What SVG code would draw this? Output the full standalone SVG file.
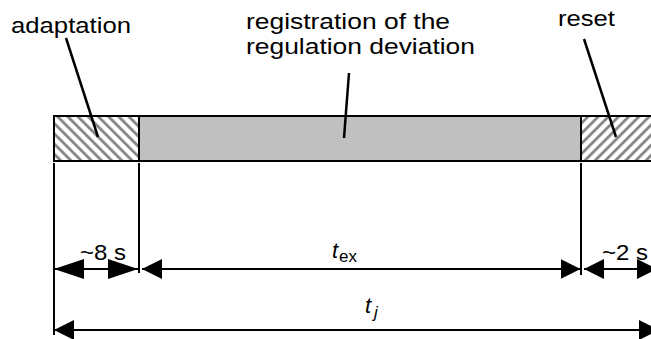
<svg xmlns="http://www.w3.org/2000/svg" width="651" height="339" viewBox="0 0 651 339">
<style>
.lbl{font-family:"Liberation Sans",Arial,sans-serif;font-size:22px;fill:#000}
.sym{font-family:"Liberation Sans",Arial,sans-serif;font-style:italic;fill:#000}
.ln{stroke:#000;stroke-width:2;fill:none}
.box{stroke:#000;stroke-width:2}
.lead{stroke:#000;stroke-width:2.5;fill:none}
.dim{stroke:#000;stroke-width:2;fill:none}
</style>
<defs>
<pattern id="hatchBack" width="7.2" height="7.2" patternUnits="userSpaceOnUse" patternTransform="rotate(-45)">
<rect width="7.2" height="7.2" fill="#fff"/>
<line x1="1.5" y1="0" x2="1.5" y2="7.2" stroke="#858585" stroke-width="2.8"/>
</pattern>
<pattern id="hatchFwd" width="7.2" height="7.2" patternUnits="userSpaceOnUse" patternTransform="rotate(45)">
<rect width="7.2" height="7.2" fill="#fff"/>
<line x1="1.5" y1="0" x2="1.5" y2="7.2" stroke="#858585" stroke-width="2.8"/>
</pattern>
<marker id="ah" viewBox="0 0 20 20" refX="20" refY="10" markerWidth="20" markerHeight="20" markerUnits="userSpaceOnUse" orient="auto-start-reverse">
<path d="M0,0 L20,10 L0,20 z" fill="#000"/>
</marker>
<marker id="ahLong" viewBox="0 0 30 20" refX="30" refY="10" markerWidth="30" markerHeight="20" markerUnits="userSpaceOnUse" orient="auto-start-reverse">
<path d="M0,0 L30,10 L0,20 z" fill="#000"/>
</marker>
</defs>
<rect width="651" height="339" fill="#fff"/>

<g id="adaptation">
<rect x="54" y="116" width="85" height="45" class="box" fill="url(#hatchBack)"/>
<text class="lbl" x="11" y="33" textLength="120" lengthAdjust="spacingAndGlyphs">adaptation</text>
</g>
<g id="registration">
<rect x="139" y="116" width="442" height="45" class="box" fill="#c0c0c0"/>
<text class="lbl" x="246" y="29" textLength="204" lengthAdjust="spacingAndGlyphs">registration of the</text>
<text class="lbl" x="246" y="54" textLength="229" lengthAdjust="spacingAndGlyphs">regulation deviation</text>
</g>
<g id="reset">
<rect x="581" y="116" width="80" height="45" class="box" fill="url(#hatchFwd)"/>
<text class="lbl" x="558" y="26" textLength="57" lengthAdjust="spacingAndGlyphs">reset</text>
</g>

<g id="connectors">
<line class="lead" x1="66" y1="38" x2="98" y2="137"/>
<line class="lead" x1="349" y1="73" x2="344" y2="138"/>
<line class="lead" x1="584" y1="39" x2="616" y2="137"/>
<line class="ln" x1="54" y1="163" x2="54" y2="335"/>
<line class="ln" x1="139" y1="163" x2="139" y2="273"/>
<line class="ln" x1="581" y1="163" x2="581" y2="275"/>
<line class="dim" x1="54" y1="269" x2="138" y2="269" marker-start="url(#ahLong)" marker-end="url(#ahLong)"/>
<line class="dim" x1="142" y1="269" x2="580.5" y2="269" marker-start="url(#ah)" marker-end="url(#ah)"/>
<line class="dim" x1="584" y1="269" x2="657" y2="269" marker-start="url(#ah)" marker-end="url(#ah)"/>
<line class="dim" x1="54" y1="330" x2="659" y2="330" marker-start="url(#ah)" marker-end="url(#ah)"/>
</g>

<g id="labels">
<text class="lbl" x="80" y="260" textLength="46" lengthAdjust="spacingAndGlyphs">~8 s</text>
<text class="lbl" x="602" y="260" textLength="46" lengthAdjust="spacingAndGlyphs">~2 s</text>
<text class="sym" x="332" y="258" style="font-size:22px">t</text>
<text class="lbl" x="339" y="262" style="font-size:17px">ex</text>
<text class="sym" x="365" y="313" style="font-size:22px">t</text>
<text class="sym" x="374" y="318" style="font-size:17px">j</text>
</g>
</svg>
